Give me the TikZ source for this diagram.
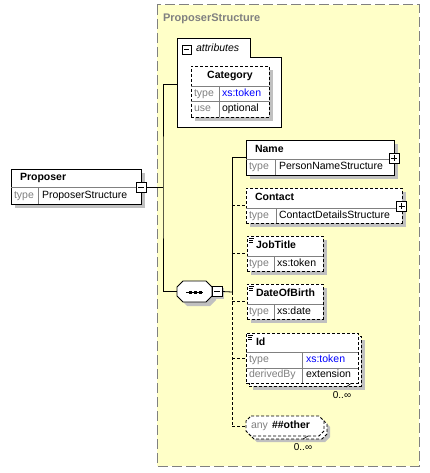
\documentclass[tikz,border=0pt]{standalone}
\usepackage{fontspec}
\setmainfont{Liberation Sans}
\definecolor{pane}{RGB}{255,255,200}
\definecolor{shd}{RGB}{192,192,192}
\definecolor{lbl}{RGB}{128,128,128}
\definecolor{tyblue}{RGB}{0,0,255}

\tikzset{
  every node/.style={inner sep=0pt, outer sep=0pt},
  txt/.style={font=\fontsize{10.5}{12}\selectfont, anchor=west, text height=7.5pt, text depth=2pt},
  head/.style={txt, font=\fontsize{10.5}{12}\selectfont\bfseries},
  key/.style={txt, text=lbl},
  frame/.style={draw, fill=white, line width=0.8pt, anchor=north west},
  optframe/.style={frame, dash pattern=on 3pt off 2pt},
  shade/.style={fill=shd, draw=none},
  sep/.style={draw=lbl, line width=0.6pt},
  link/.style={line width=0.8pt},
  optlink/.style={line width=0.8pt, dash pattern=on 3pt off 2pt},
  minusbox/.style={draw, fill=white, line width=0.8pt, minimum size=10pt,
    path picture={\draw[line width=0.9pt] ([xshift=2pt]path picture bounding box.west) -- ([xshift=-2pt]path picture bounding box.east);}},
  plusbox/.style={minusbox,
    path picture={\draw[line width=0.9pt] ([xshift=2pt]path picture bounding box.west) -- ([xshift=-2pt]path picture bounding box.east)
      ([yshift=-2pt]path picture bounding box.north) -- ([yshift=2pt]path picture bounding box.south);}},
  docmark/.style={line width=0.6pt},
}

% octagon outline: left, top, right, bottom, chamfer
\newcommand\octo[5]{(#1+#5,#2) -- (#3-#5,#2) -- (#3,#2+#5) -- (#3,#4-#5) -- (#3-#5,#4) -- (#1+#5,#4) -- (#1,#4-#5) -- (#1,#2+#5) -- cycle}

\begin{document}
\begin{tikzpicture}[x=1pt, y=-1pt]
\useasboundingbox (0,0) rectangle (430,473);

% complex type pane
\draw[draw=lbl, fill=pane, line width=1pt, dash pattern=on 10pt off 4pt] (157,5) rectangle (419,466);
\node[head, text=lbl, font=\fontsize{11}{13}\selectfont\bfseries] (ptitle) at (163,19) {ProposerStructure};

% root element
\fill[shade] (15,173) rectangle (145,208);
\node[frame, minimum width=130pt, minimum height=35pt] (prop) at (11,169) {};
\draw[sep] (11,187) -- (141,187) (38,187) -- (38,204);
\node[head] (propn) at (20,178) {Proposer};
\node[key] (propk) at (14,196) {type};
\node[txt] (propt) at (42,196) {ProposerStructure};
\node[minusbox] (propm) at (141,187) {};

% attributes group
\draw[fill=white, line width=0.8pt] (177,38) -- (250,38) -- (250,57) -- (281,57) -- (281,127) -- (177,127) -- cycle;
\node[minusbox, minimum size=9pt] (attm) at (186.5,49.5) {};
\node[txt, font=\fontsize{10.5}{12}\selectfont\itshape] (attl) at (196,49) {attributes};
\coordinate (attin) at (177,84);

\fill[shade] (195,70) rectangle (273,121);
\node[optframe, minimum width=78pt, minimum height=51pt] (cat) at (191,66) {};
\draw[sep] (191,86) -- (269,86) (191,101) -- (269,101) (219,86) -- (219,117);
\node[head, anchor=center] (catn) at (230,76) {Category};
\node[key] (catk1) at (194,94) {type};
\node[txt, text=tyblue] (catv1) at (222,94) {xs:token};
\node[key] (catk2) at (194,109) {use};
\node[txt] (catv2) at (222,109) {optional};

% sequence compositor
\fill[shade] \octo{181}{285}{216}{306}{6};
\draw[fill=white, line width=0.8pt] \octo{177}{281}{212}{302}{6};
\node[minimum width=35pt, minimum height=21pt] (seq) at (194.5,291.5) {};
\draw[line width=0.9pt] (186,292) -- (203,292);
\foreach \sx in {190,195,200} \fill (\sx-1.5,290.5) rectangle (\sx+1.5,293.5);
\fill[shade] (214,288) rectangle (224,299);
\node[minusbox] (seqm) at (217,291.5) {};

% element boxes
\fill[shade] (250,144) rectangle (398,179);
\node[frame, minimum width=148pt, minimum height=35pt] (name) at (246,140) {};
\draw[sep] (246,159) -- (394,159) (275,159) -- (275,175);
\node[head] (namen) at (255,150) {Name};
\node[key] (namek) at (249,167) {type};
\node[txt] (namet) at (279,167) {PersonNameStructure};
\node[plusbox] (namep) at (394,158) {};

\fill[shade] (250,192) rectangle (406,227);
\node[optframe, minimum width=156pt, minimum height=35pt] (cont) at (246,188) {};
\draw[sep] (246,208) -- (402,208) (276,208) -- (276,223);
\node[head] (contn) at (255,198) {Contact};
\node[key] (contk) at (249,216) {type};
\node[txt] (contt) at (279,216) {ContactDetailsStructure};
\node[plusbox] (contp) at (401.5,206) {};

\fill[shade] (251,240) rectangle (327,275);
\node[optframe, minimum width=76pt, minimum height=35pt] (job) at (247,236) {};
\draw[sep] (247,256) -- (323,256) (274,256) -- (274,271);
\draw[docmark] (249,238.5) -- (254,238.5) (249,240.5) -- (253,240.5) (249,242.5) -- (253,242.5);
\node[head] (jobn) at (256,246) {JobTitle};
\node[key] (jobk) at (249,264) {type};
\node[txt] (jobt) at (277,264) {xs:token};

\fill[shade] (251,288) rectangle (327,323);
\node[optframe, minimum width=76pt, minimum height=35pt] (dob) at (247,284) {};
\draw[sep] (247,304) -- (323,304) (274,304) -- (274,319);
\draw[docmark] (249,286.5) -- (254,286.5) (249,288.5) -- (253,288.5) (249,290.5) -- (253,290.5);
\node[head] (dobn) at (256,294) {DateOfBirth};
\node[key] (dobk) at (249,312) {type};
\node[txt] (dobt) at (277,312) {xs:date};

\fill[shade] (253,340) rectangle (365,390);
\node[optframe, minimum width=112pt, minimum height=50pt] (idb) at (249,336) {};
\node[optframe, minimum width=112pt, minimum height=50pt] (id) at (246,333) {};
\draw[sep] (246,352) -- (358,352) (246,368) -- (358,368) (302,352) -- (302,383);
\draw[docmark] (248,335.5) -- (253,335.5) (248,337.5) -- (252,337.5) (248,339.5) -- (252,339.5);
\node[head] (idn) at (256,343) {Id};
\node[key] (idk1) at (249,360) {type};
\node[txt, text=tyblue] (idv1) at (306,360) {xs:token};
\node[key] (idk2) at (249,375) {derivedBy};
\node[txt] (idv2) at (306,375) {extension};
\coordinate (idtick) at (346,387);
\draw[line width=0.6pt] (idtick) -- (351,383.5);
\node[txt, anchor=center, font=\fontsize{10}{12}\selectfont] (idocc) at (342,396) {0..∞};

% wildcard
\fill[shade] \octo{252}{422}{330}{442}{5};
\draw[fill=white, line width=0.8pt, dash pattern=on 3pt off 2pt] \octo{249}{419}{327}{439}{5};
\draw[fill=white, line width=0.8pt, dash pattern=on 3pt off 2pt] \octo{246}{416}{324}{436}{5};
\node[minimum width=78pt, minimum height=20pt] (any) at (285,426) {};
\node[key] (anyk) at (251,426) {any};
\node[head] (anyv) at (272,426) {\#\#other};
\draw[line width=0.6pt] (303,439) -- (308,436);
\node[txt, anchor=center, font=\fontsize{10}{12}\selectfont] (anyocc) at (303,448) {0..∞};

% connectors
\coordinate (j1) at (163,187);
\coordinate (j2) at (232,292);
\coordinate (jtop) at (232,158);
\coordinate (jbot) at (232,426);
\draw[link] (propm.east) -- (j1);
\draw[link] (attin) -| (j1) |- (seq.west);
\draw[link] (seq.east) -- (seqm.west);
\draw[link] (seqm.east) -- (j2);
\draw[link] (name.west -| jtop) -- (name.west);
\draw[link] (jtop) -- (j2);
\draw[optlink] (j2) -- (jbot);
\draw[optlink] (j2 |- cont.west) -- (cont.west);
\draw[optlink] (j2 |- job.west) -- (job.west);
\draw[optlink] (j2 |- dob.west) -- (dob.west);
\draw[optlink] (j2 |- id.west) -- (id.west);
\draw[optlink] (jbot) -- (any.west);
\end{tikzpicture}
\end{document}
